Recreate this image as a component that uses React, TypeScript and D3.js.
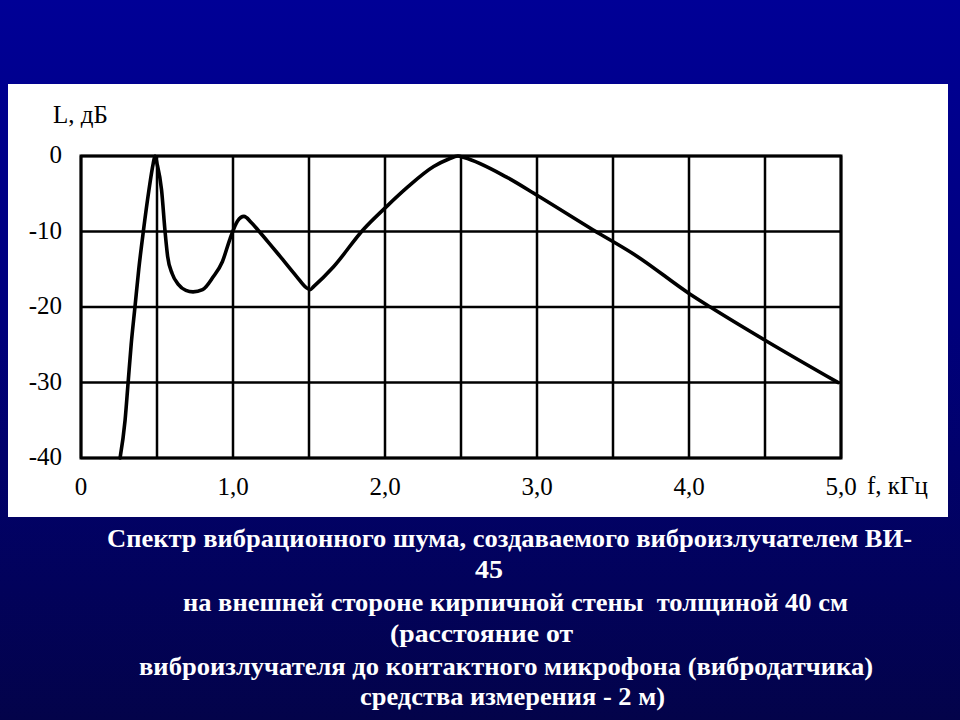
import React from "react";
import * as d3 from "d3";

const freqKHz = [0.257, 0.29, 0.31, 0.33, 0.355, 0.38, 0.41, 0.447, 0.475, 0.487, 0.5, 0.53, 0.553, 0.57, 0.6, 0.64, 0.69, 0.737, 0.8, 0.87, 0.93, 0.98, 1.03, 1.072, 1.12, 1.164, 1.24, 1.31, 1.42, 1.48, 1.507, 1.53, 1.66, 1.855, 2.01, 2.15, 2.32, 2.42, 2.48, 2.52, 2.8, 3.0, 3.37, 3.66, 4.0, 4.14, 4.5, 4.98];
const levelDb = [-40, -35, -30, -25, -20, -15, -10, -4.5, -1, 0, -1, -4.5, -10, -13.3, -15.6, -17, -17.8, -18, -17.7, -16, -14, -11, -8.6, -8.0, -8.8, -9.8, -11.6, -13.3, -16, -17.4, -17.7, -17.3, -14.7, -9.8, -6.7, -4.1, -1.4, -0.4, 0, -0.2, -2.8, -5.2, -9.8, -13.3, -18.2, -20, -24.4, -30];

const yTicks = [0, -10, -20, -30, -40];
const yTickLabels = ["0", "-10", "-20", "-30", "-40"];
const xTicks = [0, 1, 2, 3, 4, 5];
const xTickLabels = ["0", "1,0", "2,0", "3,0", "4,0", "5,0"];
const xGrid = [0, 0.5, 1, 1.5, 2, 2.5, 3, 3.5, 4, 4.5, 5];

const yAxisTitle = "L, дБ";
const xAxisTitle = "f, кГц";

const captionLines = [
  "Спектр вибрационного шума, создаваемого виброизлучателем ВИ-",
  "45",
  "на внешней стороне кирпичной стены  толщиной 40 см",
  "(расстояние от",
  "виброизлучателя до контактного микрофона (вибродатчика)",
  "средства измерения - 2 м)",
];
const captionX = [107, 475, 183, 390, 139, 360];
const captionW = [805, 28, 665, 183, 734, 305];
const captionY = [547, 578, 611, 642, 675, 705];

export default function App() {
  const x = d3.scaleLinear().domain([0, 5]).range([81, 841]);
  const y = d3.scaleLinear().domain([-40, 0]).range([458, 156]);
  const pts: [number, number][] = freqKHz.map((f, i) => [f, levelDb[i]]);
  const line = d3
    .line<[number, number]>()
    .x((d) => x(d[0]))
    .y((d) => y(d[1]))
    .curve(d3.curveMonotoneX);

  const serif = "Liberation Serif, Times New Roman, DejaVu Serif, serif";
  const labelStyle = { fontFamily: serif, fontSize: "25px" };

  return (
    <svg
      width={960}
      height={720}
      style={{ position: "absolute", left: 0, top: 0, display: "block" }}
    >
      <defs>
        <linearGradient id="bg" x1="0" y1="0" x2="0" y2="1">
          <stop offset="0" stopColor="#000096" />
          <stop offset="0.45" stopColor="#00007c" />
          <stop offset="1" stopColor="#03034a" />
        </linearGradient>
      </defs>
      <rect x={0} y={0} width={960} height={720} fill="url(#bg)" />
      <rect x={8} y={84} width={940} height={433} fill="#ffffff" />

      {xGrid.map((g) => (
        <line
          key={"vx" + g}
          x1={x(g)}
          x2={x(g)}
          y1={y(0)}
          y2={y(-40)}
          stroke="#000"
          strokeWidth={2.5}
        />
      ))}
      {yTicks.map((t) => (
        <line
          key={"hy" + t}
          x1={x(0)}
          x2={x(5)}
          y1={y(t)}
          y2={y(t)}
          stroke="#000"
          strokeWidth={2.5}
        />
      ))}
      <rect
        x={x(0)}
        y={y(0)}
        width={x(5) - x(0)}
        height={y(-40) - y(0)}
        fill="none"
        stroke="#000"
        strokeWidth={3}
      />

      <path
        d={line(pts) || ""}
        fill="none"
        stroke="#000"
        strokeWidth={3.6}
        strokeLinejoin="round"
        strokeLinecap="round"
      />

      {yTicks.map((t, i) => (
        <text
          key={"yt" + t}
          x={62}
          y={y(t) + 7}
          textAnchor="end"
          style={labelStyle}
          fill="#000"
        >
          {yTickLabels[i]}
        </text>
      ))}
      <text x={53} y={123} style={labelStyle} fill="#000">
        {yAxisTitle}
      </text>

      {xTicks.map((t, i) => (
        <text
          key={"xt" + t}
          x={x(t)}
          y={495}
          textAnchor="middle"
          style={labelStyle}
          fill="#000"
        >
          {xTickLabels[i]}
        </text>
      ))}
      <text x={867} y={494} style={labelStyle} fill="#000">
        {xAxisTitle}
      </text>

      {captionLines.map((s, i) => (
        <text
          key={"c" + i}
          x={captionX[i]}
          y={captionY[i]}
          style={{ fontFamily: serif, fontSize: "25px", fontWeight: "bold", whiteSpace: "pre" }}
          fill="#ffffff"
          textLength={captionW[i]}
          lengthAdjust="spacingAndGlyphs"
        >
          {s}
        </text>
      ))}
    </svg>
  );
}
